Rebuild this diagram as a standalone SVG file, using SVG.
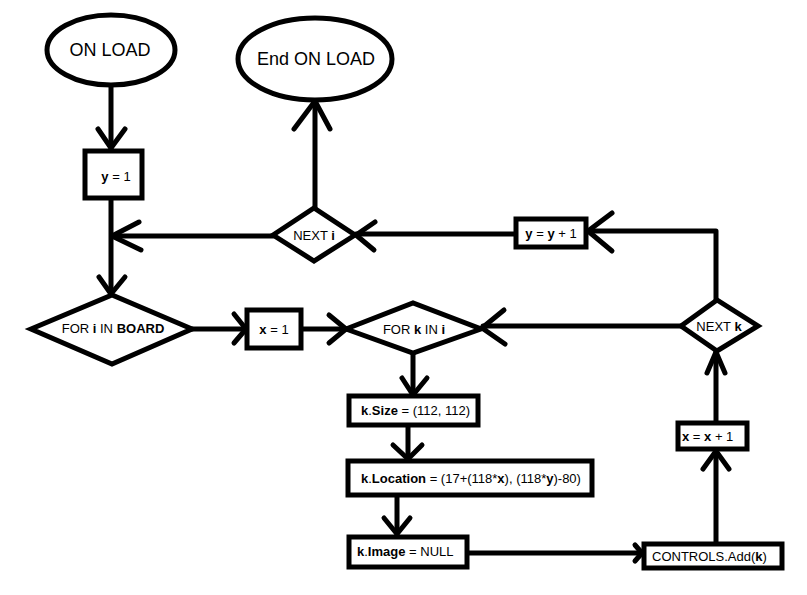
<svg xmlns="http://www.w3.org/2000/svg" width="807" height="595" viewBox="0 0 807 595">
  <style>
    .shape { fill: #fff; stroke: #000; stroke-width: 5; stroke-linejoin: miter; }
    .wire { fill: none; stroke: #000; stroke-width: 5; stroke-linecap: round; stroke-linejoin: round; }
    .big { font-family: "Liberation Sans", Arial, sans-serif; font-size: 18px; fill: #000; }
    .small { font-family: "Liberation Sans", Arial, sans-serif; font-size: 13px; fill: #000; }
    .b { font-weight: bold; }
  </style>
  <rect width="807" height="595" fill="#fff"/>

  <!-- connectors: straight lines plus open V arrowheads -->
  <g id="connectors" class="wire">
    <!-- ON LOAD -> y = 1 -->
    <path d="M111 86 V148"/>
    <path d="M98 129 L111 148 L125 129"/>
    <!-- y = 1 -> FOR i IN BOARD -->
    <path d="M111 198 V294"/>
    <path d="M99 277 L111 294 L125 277"/>
    <!-- NEXT i -> back into the loop -->
    <path d="M273 236 H112"/>
    <path d="M139 222 L112 236 L141 250"/>
    <!-- NEXT i -> End ON LOAD -->
    <path d="M315 208 V101"/>
    <path d="M294 129 L315 101 L330 129"/>
    <!-- y = y + 1 -> NEXT i -->
    <path d="M515 234 H356"/>
    <path d="M375 222 L356 235 L374 250"/>
    <!-- NEXT k -> y = y + 1 -->
    <path d="M716 300 V231 H588"/>
    <path d="M612 213 L588 231 L612 251"/>
    <!-- NEXT k -> FOR k IN i -->
    <path d="M681 326 H483"/>
    <path d="M504 310 L482 328 L505 344"/>
    <!-- FOR i IN BOARD -> x = 1 -->
    <path d="M192 329 H246"/>
    <path d="M234 314 L246 329 L234 343"/>
    <!-- x = 1 -> FOR k IN i -->
    <path d="M301 329 H346"/>
    <path d="M329 315 L346 329 L329 343"/>
    <!-- FOR k IN i -> k.Size -->
    <path d="M413 353 V395"/>
    <path d="M402 378 L413 395 L427 378"/>
    <!-- k.Size -> k.Location -->
    <path d="M408 425 V459"/>
    <path d="M393 445 L408 459 L422 445"/>
    <!-- k.Location -> k.Image -->
    <path d="M397 496 V534"/>
    <path d="M384 518 L397 534 L410 518"/>
    <!-- k.Image -> CONTROLS.Add(k) -->
    <path d="M467 553 H642"/>
    <path d="M635 545 L642 553 L635 561"/>
    <!-- CONTROLS.Add(k) -> x = x + 1 -->
    <path d="M716 543 V451"/>
    <path d="M703 469 L716 451 L729 469"/>
    <!-- x = x + 1 -> NEXT k -->
    <path d="M716 422 V352"/>
    <path d="M707 373 L716 352 L725 373"/>
  </g>

  <g id="on-load">
    <ellipse class="shape" cx="111" cy="50" rx="64" ry="35"/>
    <text class="big" x="110" y="56" text-anchor="middle">ON LOAD</text>
  </g>

  <g id="end-on-load">
    <ellipse class="shape" cx="315" cy="59" rx="77" ry="41"/>
    <text class="big" x="316" y="65" text-anchor="middle">End ON LOAD</text>
  </g>

  <g id="y-init">
    <rect class="shape" x="85" y="151" width="57" height="47"/>
    <text class="small" x="116" y="181" text-anchor="middle"><tspan class="b">y</tspan> = 1</text>
  </g>

  <g id="next-i">
    <polygon class="shape" points="273,235 314,208 355,235 314,261"/>
    <text class="small" x="314" y="240" text-anchor="middle">NEXT <tspan class="b">i</tspan></text>
  </g>

  <g id="y-inc">
    <rect class="shape" x="516" y="219" width="70" height="28"/>
    <text class="small" x="551" y="238" text-anchor="middle"><tspan class="b">y</tspan> = <tspan class="b">y</tspan> + 1</text>
  </g>

  <g id="for-i">
    <polygon class="shape" points="31,329 112,295 192,329 112,364"/>
    <text class="small" x="113" y="333" text-anchor="middle">FOR <tspan class="b">i</tspan> IN <tspan class="b">BOARD</tspan></text>
  </g>

  <g id="x-init">
    <rect class="shape" x="247" y="310" width="54" height="38"/>
    <text class="small" x="274" y="334" text-anchor="middle"><tspan class="b">x</tspan> = 1</text>
  </g>

  <g id="for-k">
    <polygon class="shape" points="346,329 413,303 481,329 413,353"/>
    <text class="small" x="414" y="334" text-anchor="middle">FOR <tspan class="b">k</tspan> IN <tspan class="b">i</tspan></text>
  </g>

  <g id="next-k">
    <polygon class="shape" points="681,326 717,300 758,326 717,351"/>
    <text class="small" x="719" y="331" text-anchor="middle">NEXT <tspan class="b">k</tspan></text>
  </g>

  <g id="k-size">
    <rect class="shape" x="349" y="396" width="129" height="29"/>
    <text class="small" x="361" y="415"><tspan class="b">k</tspan>.<tspan class="b">Size</tspan> = (112, 112)</text>
  </g>

  <g id="k-location">
    <rect class="shape" x="348" y="461" width="244" height="34"/>
    <text class="small" x="361" y="483"><tspan class="b">k</tspan>.<tspan class="b">Location</tspan> = (17+(118*<tspan class="b">x</tspan>), (118*<tspan class="b">y</tspan>)-80)</text>
  </g>

  <g id="k-image">
    <rect class="shape" x="349" y="537" width="118" height="30"/>
    <text class="small" x="357" y="556"><tspan class="b">k</tspan>.<tspan class="b">Image</tspan> = NULL</text>
  </g>

  <g id="controls-add">
    <rect class="shape" x="644" y="544" width="138" height="24"/>
    <text class="small" x="652" y="561">CONTROLS.Add(<tspan class="b">k</tspan>)</text>
  </g>

  <g id="x-inc">
    <rect class="shape" x="678" y="423" width="69" height="26"/>
    <text class="small" x="682" y="441"><tspan class="b">x</tspan> = <tspan class="b">x</tspan> + 1</text>
  </g>
</svg>
